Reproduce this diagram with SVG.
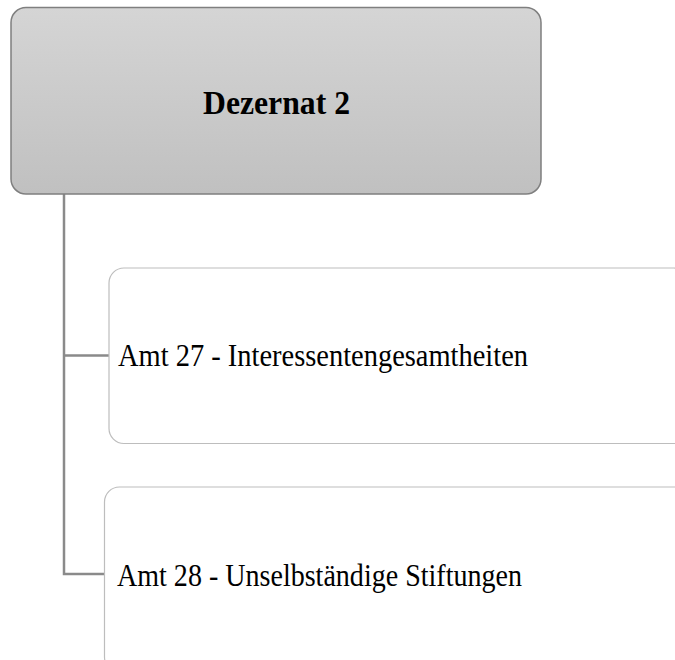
<svg xmlns="http://www.w3.org/2000/svg" width="675" height="660" viewBox="0 0 675 660">
<defs>
<linearGradient id="g" x1="0" y1="0" x2="0" y2="1">
<stop offset="0" stop-color="#d5d5d5"/>
<stop offset="1" stop-color="#c0c0c0"/>
</linearGradient>
<style>
.child{fill:#ffffff;stroke:#bdbdbd;stroke-width:1.2}
.conn{fill:none;stroke:#8a8a8a;stroke-width:2.5}
.t{font-family:"Liberation Serif","Times New Roman",serif;fill:#000}
</style>
</defs>
<rect width="675" height="660" fill="#ffffff"/>
<g id="connectors">
<path class="conn" d="M64,194 V574 H104"/>
<path class="conn" d="M64,355.5 H109"/>
</g>
<g id="dezernat2">
<rect x="11" y="7.5" width="530" height="186.5" rx="15" fill="url(#g)" stroke="#7f7f7f" stroke-width="1.5"/>
<text class="t" x="203" y="114" font-size="33" font-weight="bold" textLength="147" lengthAdjust="spacingAndGlyphs">Dezernat 2</text>
</g>
<g id="amt27">
<rect class="child" x="109" y="268" width="580" height="175.5" rx="15"/>
<text class="t" x="118" y="366" font-size="31" textLength="410" lengthAdjust="spacingAndGlyphs">Amt 27 - Interessentengesamtheiten</text>
</g>
<g id="amt28">
<rect class="child" x="104.5" y="487" width="585" height="185" rx="15"/>
<text class="t" x="117" y="586" font-size="31" textLength="405" lengthAdjust="spacingAndGlyphs">Amt 28 - Unselbständige Stiftungen</text>
</g>
</svg>
